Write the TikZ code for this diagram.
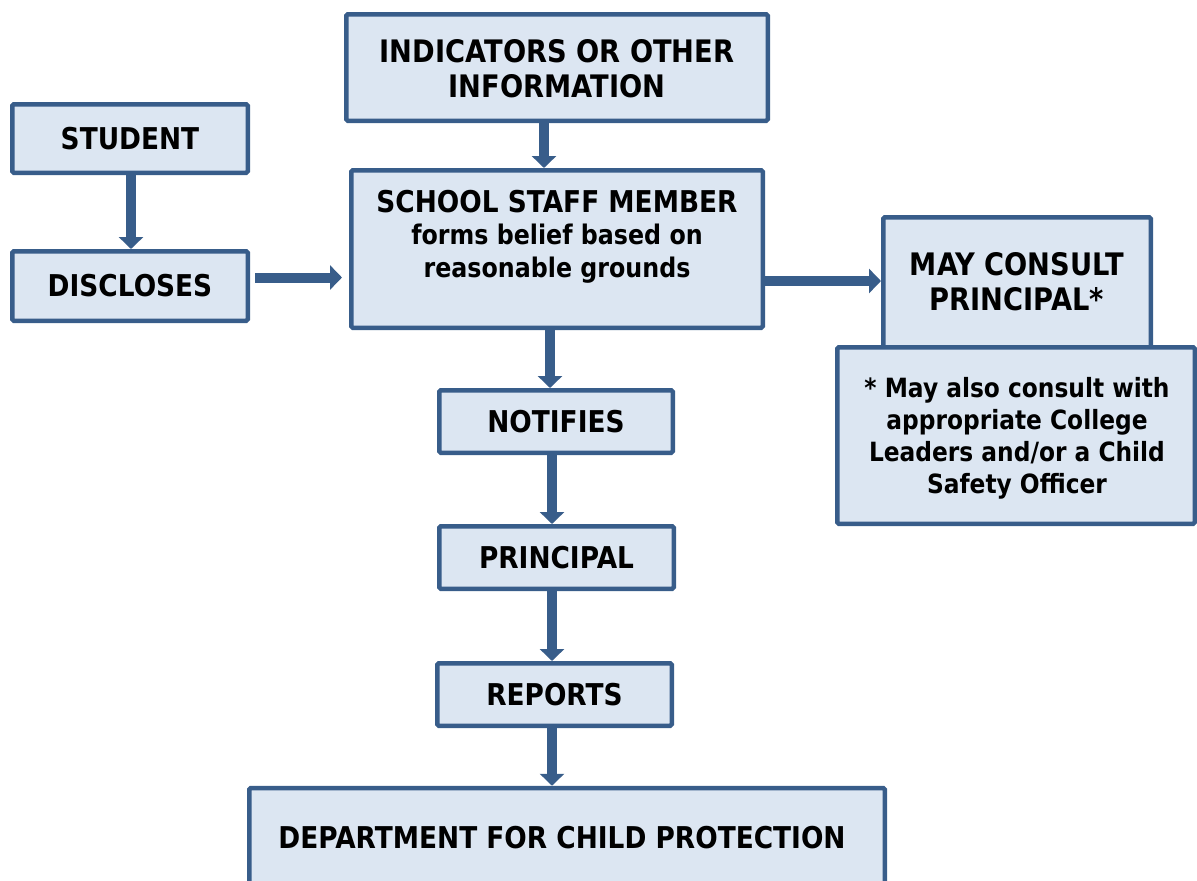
\documentclass[tikz,border=0pt]{standalone}
\usepackage{fontspec}
\setmainfont{DejaVu Sans}[FakeStretch=0.88]
\usetikzlibrary{arrows.meta}
\definecolor{bdr}{RGB}{56,93,138}
\definecolor{fillc}{RGB}{220,230,242}
\tikzset{
  box/.style={draw=bdr, fill=fillc, line width=4.5pt, rounded corners=1.5pt, inner sep=0pt, rectangle},
  lbl/.style={font=\bfseries\fontsize{30}{35}\selectfont, align=center, inner sep=0pt, text=black},
  conn/.style={draw=bdr, line width=10pt, -{Triangle[width=24pt,length=12pt]}},
}
\begin{document}
\begin{tikzpicture}[x=1pt,y=-1pt]
\useasboundingbox (0,0) rectangle (1197,881);
\clip (0,0) rectangle (1197,881);
% boxes
\node[box, minimum width=421.5pt, minimum height=106.5pt] (ind) at (557,67.5) {};
\node[box, lbl, minimum width=235.5pt, minimum height=68.5pt] (student) at (130,138.5) {STUDENT};
\node[box, lbl, minimum width=235.5pt, minimum height=69.5pt] (disc) at (130,286) {DISCLOSES};
\node[box, minimum width=411.5pt, minimum height=157.5pt] (school) at (557,249) {};
\node[box, minimum width=267.5pt, minimum height=145.5pt] (may) at (1017,290) {};
\node[box, minimum width=357.5pt, minimum height=176.5pt] (foot) at (1016,435.5) {};
\node[box, lbl, minimum width=233.5pt, minimum height=62.5pt] (notif) at (556,421.5) {NOTIFIES};
\node[box, lbl, minimum width=234.5pt, minimum height=62.5pt] (princ) at (556.5,557.5) {PRINCIPAL};
\node[box, lbl, minimum width=234.5pt, minimum height=62.5pt] (rep) at (554.5,694.5) {REPORTS};
\node[box, minimum width=635.5pt, minimum height=115pt] (dept) at (567,845.5) {};
% texts (anchor base = baseline of the last line)
\node[lbl, font=\bfseries\fontsize{31}{35}\selectfont, anchor=base] (indt) at (557,97) {INDICATORS OR OTHER\\INFORMATION};
\node[lbl, font=\bfseries\fontsize{27}{32.5}\selectfont, anchor=base] (schoolt) at (557,277) {{\fontsize{30}{32.5}\selectfont SCHOOL STAFF MEMBER}\\forms belief based on\\reasonable grounds};
\node[lbl, font=\bfseries\fontsize{31}{35}\selectfont, anchor=base] (mayt) at (1017,310) {MAY CONSULT\\PRINCIPAL*};
\node[lbl, font=\bfseries\fontsize{26.5}{32}\selectfont, anchor=base] (foott) at (1017,493) {* May also consult with\\appropriate College\\Leaders and/or a Child\\Safety Officer};
\node[lbl, anchor=base] (deptt) at (562,848) {DEPARTMENT FOR CHILD PROTECTION};
% connectors
\coordinate (a5) at ([xshift=1pt]student.south);
\draw[conn] (a5) -- (a5 |- disc.north);
\coordinate (a0) at ([xshift=-13pt]ind.south);
\draw[conn] (a0) -- (a0 |- school.north);
\coordinate (d1) at ([yshift=8.5pt]disc.east);
\draw[conn, shorten <=5pt, shorten >=7pt] (d1) -- (d1 -| school.west);
\coordinate (s1) at ([yshift=-32pt]school.east);
\draw[conn] (s1) -- (s1 -| may.west);
\coordinate (a1) at ([xshift=-7pt]school.south);
\draw[conn] (a1) -- (a1 |- notif.north);
\coordinate (a2) at ([xshift=-4pt]notif.south);
\draw[conn] (a2) -- (a2 |- princ.north);
\coordinate (a3) at ([xshift=-4.5pt]princ.south);
\draw[conn] (a3) -- (a3 |- rep.north);
\coordinate (a4) at ([xshift=-2.5pt]rep.south);
\draw[conn] (a4) -- (a4 |- dept.north);
\end{tikzpicture}
\end{document}
